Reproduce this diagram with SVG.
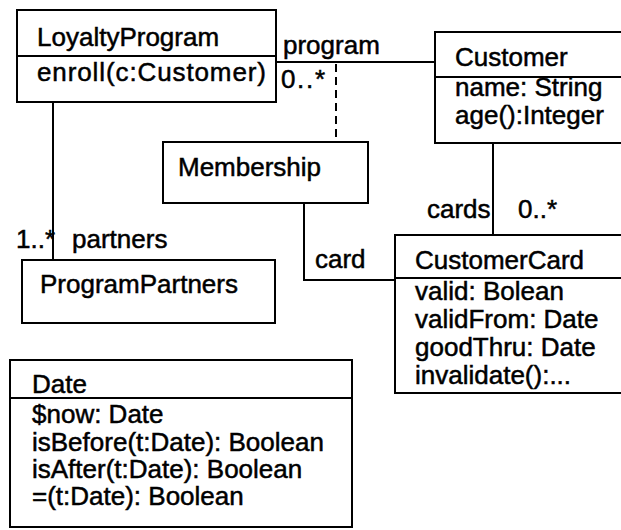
<svg xmlns="http://www.w3.org/2000/svg" width="621" height="530" viewBox="0 0 621 530">
<style>
.box{fill:#fff;stroke:#000;stroke-width:2}
.div{stroke:#000;stroke-width:2}
.ln{fill:none;stroke:#000;stroke-width:2}
.dash{fill:none;stroke:#000;stroke-width:2;stroke-dasharray:8 5}
text{font-family:"Liberation Sans",Arial,sans-serif;font-size:26px;fill:#000;stroke:#000;stroke-width:0.5}
</style>
<rect width="621" height="530" fill="#fff"/>
<g id="connectors">
<line class="ln" x1="276" y1="62" x2="435" y2="62"/>
<line class="dash" x1="336" y1="64" x2="336" y2="142"/>
<line class="ln" x1="53" y1="102" x2="53" y2="260"/>
<polyline class="ln" points="304,203 304,280 395,280"/>
<line class="ln" x1="493" y1="143" x2="493" y2="235"/>
<text x="283" y="54">program</text>
<text x="281" y="88" textLength="44">0..*</text>
<text x="16" y="248">1..*</text>
<text x="72" y="248">partners</text>
<text x="315" y="268">card</text>
<text x="427" y="218">cards</text>
<text x="518" y="218">0..*</text>
</g>
<g id="LoyaltyProgram">
<rect class="box" x="17" y="10" width="259" height="92"/>
<line class="div" x1="17" y1="56" x2="276" y2="56"/>
<text x="37" y="46">LoyaltyProgram</text>
<text x="37" y="81" textLength="229">enroll(c:Customer)</text>
</g>
<g id="Customer">
<rect class="box" x="435" y="32" width="210" height="111"/>
<line class="div" x1="435" y1="77" x2="621" y2="77"/>
<text x="455" y="66">Customer</text>
<text x="455" y="96">name: String</text>
<text x="455" y="124">age():Integer</text>
</g>
<g id="Membership">
<rect class="box" x="163" y="142" width="205" height="61"/>
<text x="178" y="176">Membership</text>
</g>
<g id="ProgramPartners">
<rect class="box" x="22" y="260" width="253" height="63"/>
<text x="40" y="293">ProgramPartners</text>
</g>
<g id="CustomerCard">
<rect class="box" x="395" y="235" width="250" height="158"/>
<line class="div" x1="395" y1="278" x2="621" y2="278"/>
<text x="415" y="269">CustomerCard</text>
<text x="415" y="300">valid: Bolean</text>
<text x="415" y="328">validFrom: Date</text>
<text x="415" y="356">goodThru: Date</text>
<text x="415" y="384">invalidate():...</text>
</g>
<g id="Date">
<rect class="box" x="10" y="360" width="342" height="167"/>
<line class="div" x1="10" y1="398" x2="352" y2="398"/>
<text x="32" y="393">Date</text>
<text x="32" y="423">$now: Date</text>
<text x="32" y="451">isBefore(t:Date): Boolean</text>
<text x="32" y="478">isAfter(t:Date): Boolean</text>
<text x="32" y="505">=(t:Date): Boolean</text>
</g>
</svg>
